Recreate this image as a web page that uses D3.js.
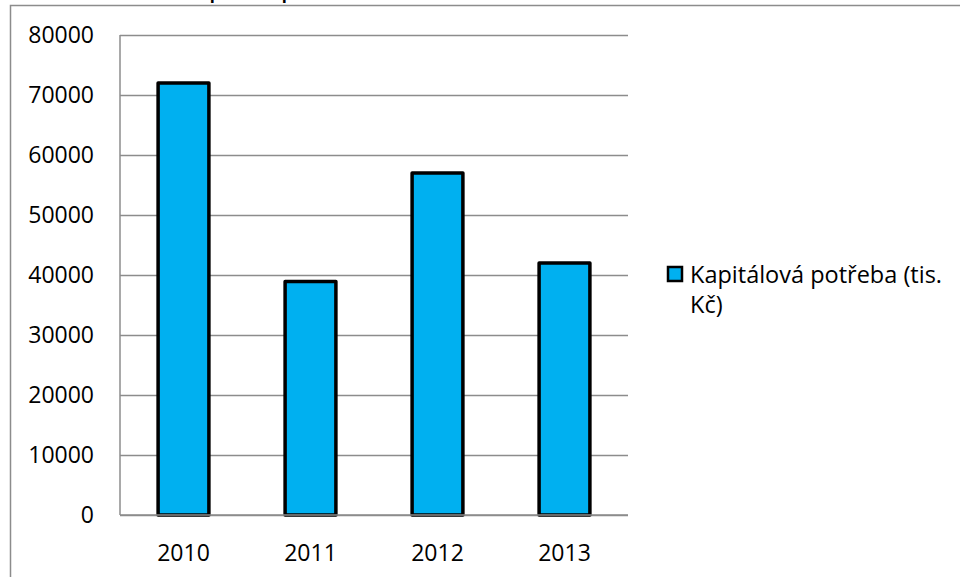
<!DOCTYPE html>
<html>
<head>
<meta charset="utf-8">
<script src="https://cdn.jsdelivr.net/npm/d3@7"></script>
<style>
  html, body { margin: 0; padding: 0; background: #fff; }
  svg { display: block; }
  text { font-family: "Open Sans", "Noto Sans", sans-serif; fill: #000; }
</style>
</head>
<body>
<svg id="chart" width="960" height="577"></svg>
<script>
// Kapitálová potřeba podle let (tis. Kč)
const years = ["2010", "2011", "2012", "2013"];
const capitalNeed = [72000, 38900, 57000, 42000];
const yTicks = [0, 10000, 20000, 30000, 40000, 50000, 60000, 70000, 80000];
const seriesName = "Kapitálová potřeba (tis. Kč)";
const chartTitle = "Kapitálová potřeba";

const svg = d3.select("#chart");
const W = 960, H = 577;
const plot = { left: 120, right: 628, top: 35, bottom: 515 };

// outer chart frame (its bottom lies below the visible area)
svg.append("rect")
  .attr("x", 10.5).attr("y", 5.5)
  .attr("width", W + 20).attr("height", H + 20)
  .attr("fill", "#fff").attr("stroke", "#8c8c8c").attr("stroke-width", 1.5);

// title, sitting above the visible area so only its descenders show
const title = svg.append("text")
  .attr("font-weight", "bold")
  .attr("font-size", 20)
  .attr("x", 0).attr("y", -1.5)
  .text(chartTitle);
{
  const a = title.node().getExtentOfChar(2);
  const b = title.node().getExtentOfChar(11);
  const dist = (b.x + b.width / 2) - (a.x + a.width / 2);
  const fs = 20 * 72 / dist;
  title.attr("font-size", fs);
  const a2 = title.node().getExtentOfChar(2);
  title.attr("x", 215 - (a2.x + a2.width / 2));
}

const x = d3.scaleBand()
  .domain(years)
  .range([plot.left, plot.right])
  .paddingInner(0.6)
  .paddingOuter(0.3);

const y = d3.scaleLinear()
  .domain([0, 80000])
  .range([plot.bottom, plot.top]);

// horizontal gridlines + y tick labels
const yAxis = d3.axisLeft(y)
  .tickValues(yTicks)
  .tickFormat(d3.format("d"))
  .tickSize(-(plot.right - plot.left))
  .tickPadding(26);

const gy = svg.append("g")
  .attr("transform", `translate(${plot.left},0)`)
  .call(yAxis);
gy.select(".domain").remove();
gy.selectAll(".tick line")
  .attr("stroke", "#8c8c8c").attr("stroke-width", 1.5);
gy.selectAll(".tick text")
  .attr("font-size", 23)
  .attr("font-family", "'Open Sans', sans-serif")
  .attr("fill", "#000");

// vertical axis line
svg.append("line")
  .attr("x1", plot.left).attr("x2", plot.left)
  .attr("y1", plot.top).attr("y2", plot.bottom)
  .attr("stroke", "#8c8c8c").attr("stroke-width", 1.5);

// bars
svg.append("g").selectAll("rect")
  .data(years.map((yr, i) => ({ yr, v: capitalNeed[i] })))
  .join("rect")
  .attr("x", d => x(d.yr))
  .attr("y", d => y(d.v))
  .attr("width", x.bandwidth())
  .attr("height", d => y(0) - y(d.v))
  .attr("fill", "#00b0f0")
  .attr("stroke", "#000")
  .attr("stroke-width", 3.5)
  .attr("stroke-linejoin", "round");

// category axis
const xAxis = d3.axisBottom(x).tickSize(0).tickPadding(30);
const gx = svg.append("g")
  .attr("transform", `translate(0,${plot.bottom})`)
  .call(xAxis);
gx.select(".domain")
  .attr("d", `M${plot.left},0H${plot.right}`)
  .attr("stroke", "#8c8c8c").attr("stroke-width", 1.5);
gx.selectAll(".tick text")
  .attr("font-size", 23)
  .attr("font-family", "'Open Sans', sans-serif")
  .attr("fill", "#000");

// legend
const lg = svg.append("g").attr("transform", "translate(667,266)");
lg.append("rect")
  .attr("x", 1).attr("y", 1).attr("width", 14).attr("height", 14)
  .attr("fill", "#00b0f0").attr("stroke", "#000").attr("stroke-width", 2.5);
const words = seriesName.split(" ");
const lt = lg.append("text")
  .attr("x", 23).attr("y", 17)
  .attr("font-size", 23.5);
lt.append("tspan").attr("x", 23).attr("dy", 0).text(words.slice(0, 3).join(" "));
lt.append("tspan").attr("x", 23).attr("dy", 30).text(words.slice(3).join(" "));
</script>
</body>
</html>
